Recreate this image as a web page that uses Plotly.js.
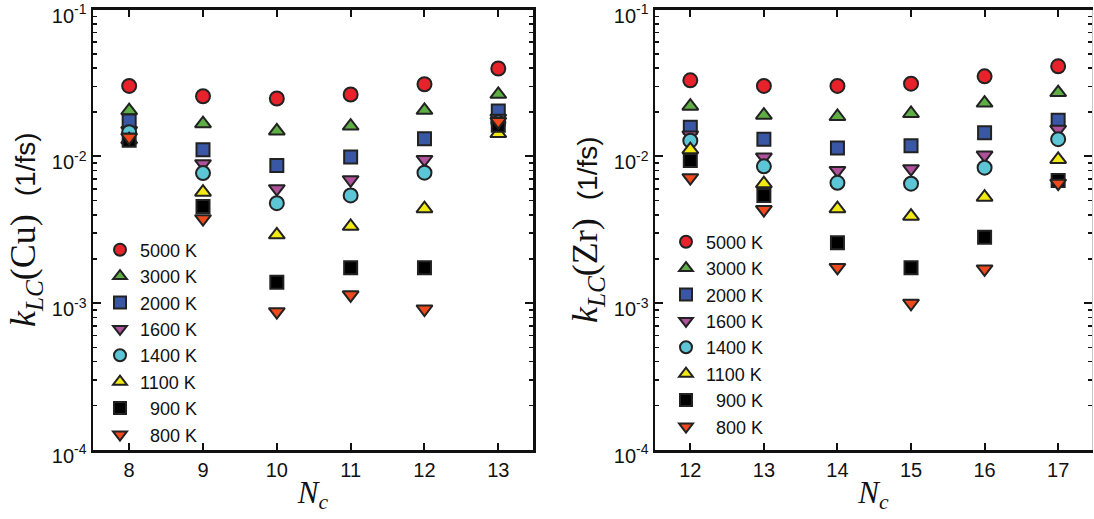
<!DOCTYPE html>
<html>
<head>
<meta charset="utf-8">
<script src="https://cdn.plot.ly/plotly-3.0.1.min.js"></script>
<style>html,body{margin:0;padding:0;background:#fff}#plot{width:1094px;height:519px}</style>
</head>
<body>
<div id="plot"></div>
<script>
// ---- data ----
const nCu = [8, 9, 10, 11, 12, 13];
const nZr = [12, 13, 14, 15, 16, 17];
const tempLabels = ['5000 K', '3000 K', '2000 K', '1600 K', '1400 K', '1100 K', '\u00a0\u00a0900 K', '\u00a0\u00a0800 K'];
const yTickVals = [1e-4, 1e-3, 1e-2, 1e-1];
const yTickText = ['10<sup>-4</sup>', '10<sup>-3</sup>', '10<sup>-2</sup>', '10<sup>-1</sup>'];

const cu_5000 = [0.0302, 0.0257, 0.0248, 0.0264, 0.0310, 0.0397];
const cu_3000 = [0.0205, 0.0167, 0.0149, 0.0161, 0.0206, 0.0265];
const cu_2000 = [0.0174, 0.0111, 0.00868, 0.00989, 0.0132, 0.0204];
const cu_1600 = [0.0150, 0.00892, 0.00602, 0.00693, 0.00954, 0.0182];
const cu_1400 = [0.0146, 0.00769, 0.00480, 0.00542, 0.00774, 0.0170];
const cu_1100 = [0.0130, 0.00570, 0.00292, 0.00334, 0.00440, 0.0143];
const cu_900  = [0.0129, 0.00456, 0.00139, 0.00174, 0.00174, 0.0163];
const cu_800  = [0.0135, 0.00376, 0.000875, 0.00114, 0.000912, 0.0173];

const zr_5000 = [0.0330, 0.0302, 0.0302, 0.0313, 0.0351, 0.0411];
const zr_3000 = [0.0220, 0.0191, 0.0187, 0.0196, 0.0231, 0.0272];
const zr_2000 = [0.0158, 0.0131, 0.0114, 0.0118, 0.0145, 0.0176];
const zr_1600 = [0.0140, 0.00989, 0.00802, 0.00824, 0.0102, 0.0153];
const zr_1400 = [0.0128, 0.00855, 0.00660, 0.00652, 0.00838, 0.0131];
const zr_1100 = [0.0111, 0.00652, 0.00440, 0.00391, 0.00527, 0.00954];
const zr_900  = [0.00939, 0.00542, 0.00258, 0.00174, 0.00281, 0.00686];
const zr_800  = [0.00716, 0.00434, 0.00175, 0.000998, 0.00171, 0.00657];

const cuSeries = [cu_5000, cu_3000, cu_2000, cu_1600, cu_1400, cu_1100, cu_900, cu_800];
const zrSeries = [zr_5000, zr_3000, zr_2000, zr_1600, zr_1400, zr_1100, zr_900, zr_800];

// ---- styles ----
const colors = ['#e8222a', '#5fae45', '#3a57a6', '#b0519c', '#5cc6d6', '#f3ea14', '#000000', '#ee4a1e'];
const symbols = ['circle', 'triangle-up', 'square', 'triangle-down', 'circle', 'triangle-up', 'square', 'triangle-down'];
const sizes = [14, 14, 13, 14, 14, 14, 13, 14];

const traces = [];
function addPanel(xs, series, xa, ya, legendName) {
  series.forEach((ys, i) => {
    traces.push({
      type: 'scatter', mode: 'markers',
      x: xs, y: ys, xaxis: xa, yaxis: ya,
      name: tempLabels[i], legend: legendName,
      marker: {symbol: symbols[i], size: sizes[i], color: colors[i], line: {color: '#222', width: 2}},
      hoverinfo: 'x+y+name'
    });
  });
}
addPanel(nCu, cuSeries, 'x', 'y', 'legend');
addPanel(nZr, zrSeries, 'x2', 'y2', 'legend2');
// empty trace so the right-hand frame axis of the second panel is drawn
traces.push({type: 'scatter', mode: 'markers', x: [], y: [], xaxis: 'x2', yaxis: 'y3', showlegend: false, hoverinfo: 'skip'});

const tickFont = {family: 'Liberation Sans, Arial, sans-serif', size: 20, color: '#111'};
const yDom = [1 - 450 / 519, 1 - 9.5 / 519];
const yRange = [-4.001, -0.999];
const minorY = {ticks: 'inside', ticklen: 4, tickwidth: 1.5, tickcolor: '#111', dtick: 'D1', showgrid: false};

function yAxis(anchor, titleText, mirror) {
  return {
    type: 'log', range: yRange, domain: yDom, anchor: anchor,
    tickmode: 'array', tickvals: yTickVals, ticktext: yTickText, ticklabeloverflow: 'allow',
    ticklabelshift: 6,
    ticks: 'inside', ticklen: 8, tickwidth: 2, tickcolor: '#111',
    minor: minorY,
    showline: true, linewidth: 2.5, linecolor: '#111', mirror: mirror,
    showgrid: false, zeroline: false, tickfont: tickFont,
    title: {text: titleText, font: {family: 'Liberation Serif, DejaVu Serif, serif', size: 36, color: '#111'}, standoff: 5}
  };
}
function xAxis(anchor, domain, range) {
  return {
    domain: domain, anchor: anchor, range: range, dtick: 1, tick0: 0,
    ticks: 'inside', ticklen: 7, tickwidth: 2, tickcolor: '#111',
    showline: true, linewidth: 2.5, linecolor: '#111', mirror: 'ticks',
    showgrid: false, zeroline: false, tickfont: tickFont, ticklabeloverflow: 'allow',
    title: {text: '<i>N</i><sub><i>c</i></sub>', font: {family: 'Liberation Serif, DejaVu Serif, serif', size: 31, color: '#111'}, standoff: 2}
  };
}

const fsSpan = '<span style="font-family:Liberation Sans,Arial,sans-serif;font-size:28px">(1/fs)</span>';
const legFont = {family: 'Liberation Sans, Arial, sans-serif', size: 18, color: '#111'};
const layout = {
  width: 1094, height: 519,
  margin: {l: 0, r: 0, t: 0, b: 0},
  paper_bgcolor: '#fff', plot_bgcolor: '#fff',
  showlegend: true,
  xaxis: xAxis('y', [93 / 1094, 533 / 1094], [7.51, 13.47]),
  yaxis: yAxis('x', '<i>k</i><sub><i>LC</i></sub>(Cu)\u00a0\u00a0' + fsSpan, 'ticks'),
  xaxis2: xAxis('y2', [655 / 1094, 1092 / 1094], [11.52, 17.46]),
  yaxis2: yAxis('x2', '<i>k</i><sub><i>LC</i></sub>(Zr)\u00a0\u00a0' + fsSpan, false),
  yaxis3: {
    type: 'log', range: yRange, domain: yDom, anchor: 'x2', overlaying: 'y2', side: 'right',
    tickmode: 'array', tickvals: yTickVals, ticks: 'inside', ticklen: 8, tickwidth: 2, tickcolor: '#111',
    minor: minorY, showticklabels: false,
    showline: true, linewidth: 1, linecolor: '#c8c8c8',
    showgrid: false, zeroline: false
  },
  legend: {x: 100 / 1094, xanchor: 'left', y: 1 - 231.5 / 519, yanchor: 'top', bgcolor: 'rgba(0,0,0,0)', borderwidth: 0, font: legFont, tracegroupgap: 0, itemsizing: 'constant'},
  legend2: {x: 666 / 1094, xanchor: 'left', y: 1 - 223.5 / 519, yanchor: 'top', bgcolor: 'rgba(0,0,0,0)', borderwidth: 0, font: legFont, tracegroupgap: 0, itemsizing: 'constant'}
};

Plotly.newPlot('plot', traces, layout, {displayModeBar: false, staticPlot: true});
</script>
</body>
</html>
